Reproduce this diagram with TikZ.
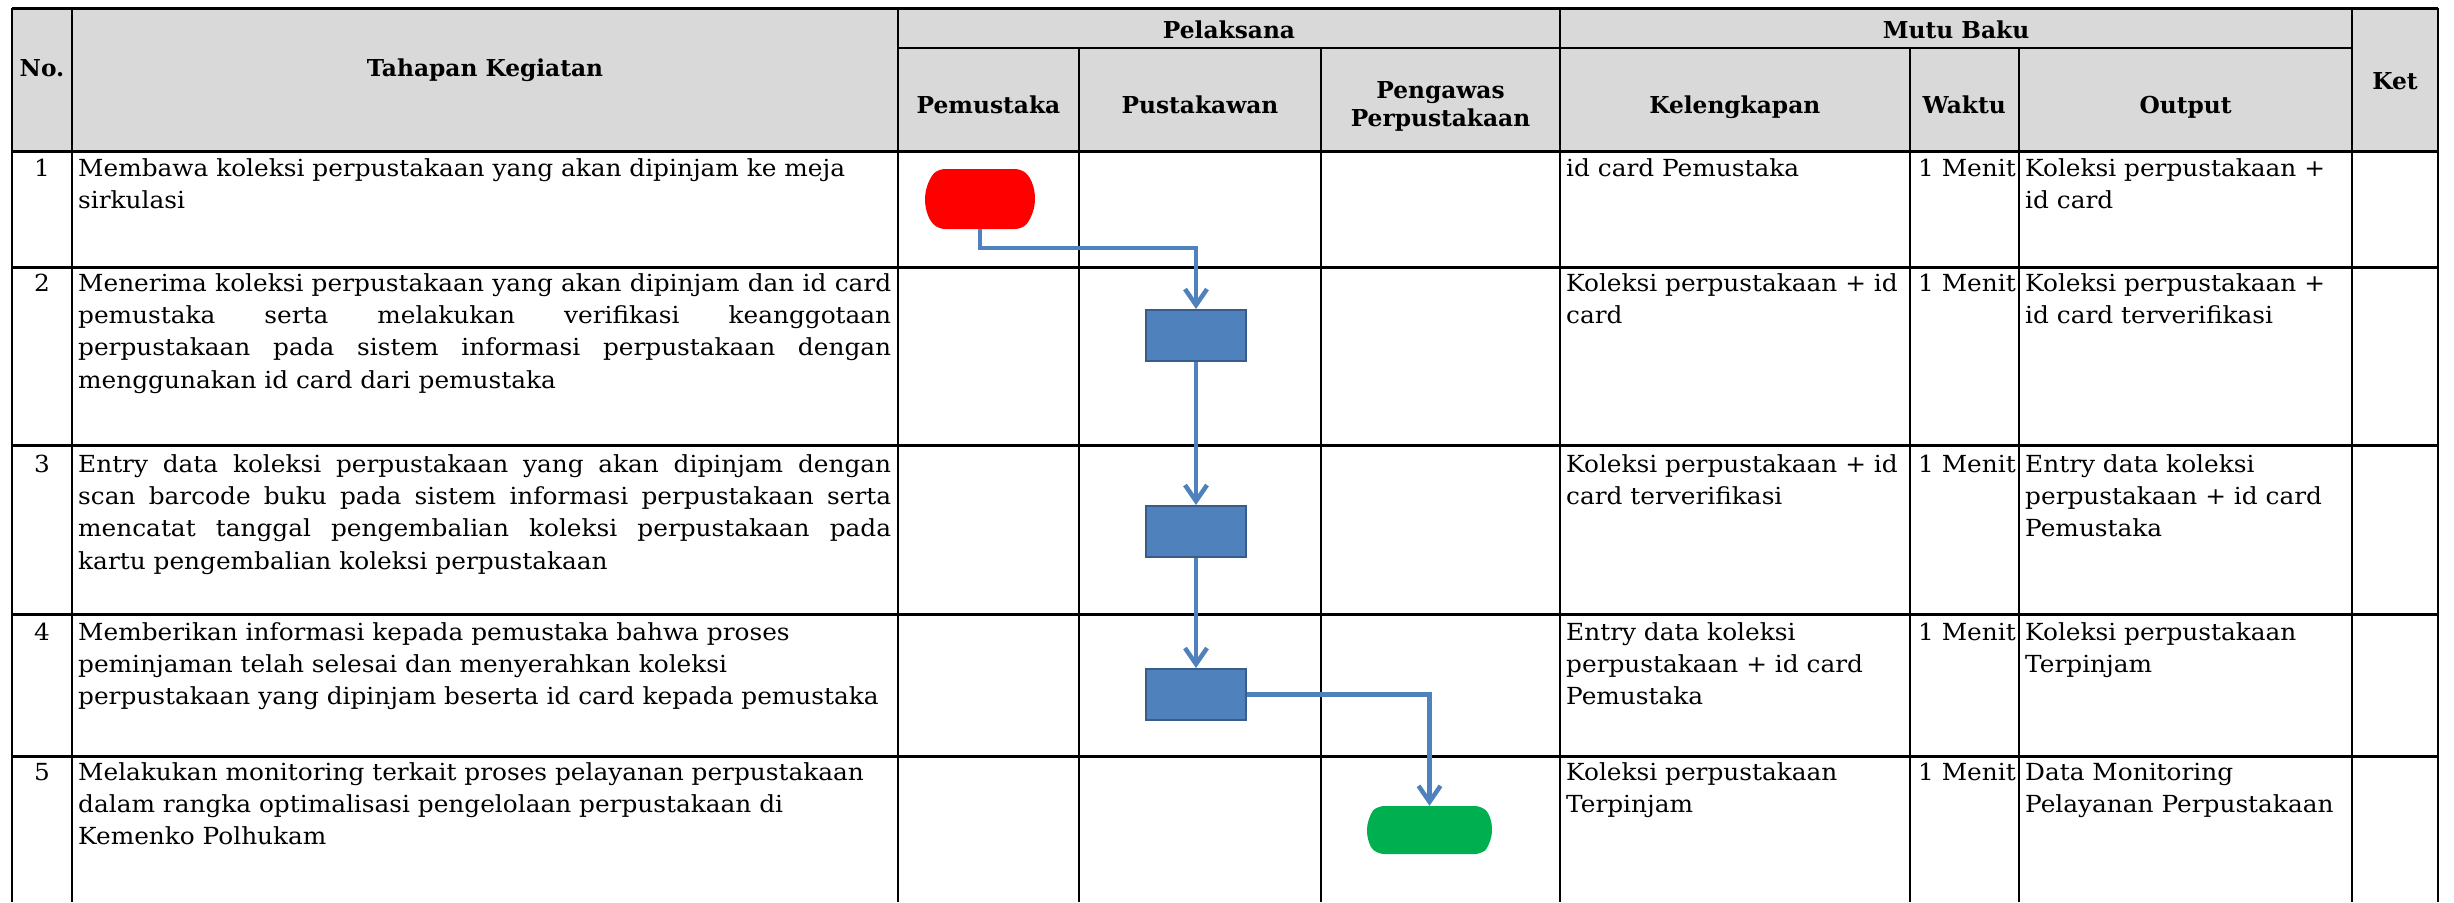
\documentclass[tikz,border=0pt]{standalone}
\usepackage{fontspec}
\setmainfont{DejaVu Serif}
\newfontfamily\bodyfam{DejaVu Serif}[FakeStretch=1.055]
\usetikzlibrary{arrows.meta,shapes.misc}
\definecolor{hdr}{HTML}{D9D9D9}
\definecolor{flowblue}{HTML}{4F81BD}
\definecolor{flowedge}{HTML}{385D8A}
\definecolor{termred}{HTML}{FF0000}
\definecolor{termgreen}{HTML}{00B050}
\newcommand{\bodyfont}{\bodyfam\fontsize{23.5}{32.4}\selectfont}
\newcommand{\hdfont}{\fontsize{23.3}{28}\selectfont\bfseries}
\begin{document}
\begin{tikzpicture}[x=1pt,y=-1pt,
  gridthin/.style={line width=2pt, black},
  gridthick/.style={line width=3pt, black},
  hd/.style={anchor=base, inner sep=0, font=\hdfont},
  cell/.style={anchor=base west, inner sep=0, font=\bodyfont},
  num/.style={anchor=base, inner sep=0, font=\bodyfont},
  procbox/.style={draw=flowedge, line width=2pt, fill=flowblue, minimum width=100pt, minimum height=51pt, inner sep=0},
  term/.style={rounded rectangle, rounded rectangle arc length=100, rounded corners=6pt, inner sep=0},
  conn/.style={draw=flowblue, line width=4.5pt, -{Straight Barb[length=16pt,width=22pt]}}
]
\useasboundingbox (0,0) rectangle (2454,902);
% header background
\fill[hdr] (12,8) rectangle (2438,151);
% horizontal lines
\draw[gridthick] (12,8) -- (2438,8);
\draw[gridthin] (898,48) -- (2352,48);
\draw[gridthick] (12,151) -- (2438,151);
\foreach \yy in {267.7,445,614,756} {\draw[gridthick] (12,\yy) -- (2438,\yy);}
% vertical lines
\foreach \xx in {12,72,898,1560,2352,2438} {\draw[gridthin] (\xx,8) -- (\xx,902);}
\foreach \xx in {1079,1321,1909.5,2019} {\draw[gridthin] (\xx,48) -- (\xx,902);}

% header texts
\node[hd] (hno) at (42,76) {No.};
\node[hd] (htahap) at (485,76) {Tahapan Kegiatan};
\node[hd] (hpel) at (1229,38) {Pelaksana};
\node[hd] (hmutu) at (1956,38) {Mutu Baku};
\node[hd] (hket) at (2395,89) {Ket};
\node[hd] (hpemu) at (988.5,113) {Pemustaka};
\node[hd] (hpust) at (1200,113) {Pustakawan};
\node[hd] (hpeng) at (1440.5,98) {\parbox[t]{230pt}{\centering Pengawas\\Perpustakaan}};
\node[hd] (hkel) at (1734.75,113) {Kelengkapan};
\node[hd] (hwak) at (1964.25,113) {Waktu};
\node[hd] (hout) at (2185.5,113) {Output};

% row 1
\node[num] (n1) at (42,176) {1};
\node[cell] (t1) at (78,176) {\parbox[t]{813pt}{\raggedright Membawa koleksi perpustakaan yang akan dipinjam ke meja\\sirkulasi}};
\node[cell] (k1) at (1566,176) {\parbox[t]{340pt}{\raggedright id card Pemustaka}};
\node[cell] (w1) at (1918,176) {1 Menit};
\node[cell] (o1) at (2025,176) {\parbox[t]{325pt}{\raggedright Koleksi perpustakaan +\\id card}};

% row 2
\node[num] (n2) at (42,291) {2};
\node[cell] (t2) at (78,291) {\parbox[t]{813pt}{Menerima koleksi perpustakaan yang akan dipinjam dan id card\linebreak pemustaka serta melakukan verifikasi keanggotaan\linebreak perpustakaan pada sistem informasi perpustakaan dengan\linebreak menggunakan id card dari pemustaka}};
\node[cell] (k2) at (1566,291) {\parbox[t]{340pt}{\raggedright Koleksi perpustakaan + id\\card}};
\node[cell] (w2) at (1918,291) {1 Menit};
\node[cell] (o2) at (2025,291) {\parbox[t]{325pt}{\raggedright Koleksi perpustakaan +\\id card terverifikasi}};

% row 3
\node[num] (n3) at (42,472) {3};
\node[cell] (t3) at (78,472) {\parbox[t]{813pt}{Entry data koleksi perpustakaan yang akan dipinjam dengan\linebreak scan barcode buku pada sistem informasi perpustakaan serta\linebreak mencatat tanggal pengembalian koleksi perpustakaan pada\linebreak kartu pengembalian koleksi perpustakaan}};
\node[cell] (k3) at (1566,472) {\parbox[t]{340pt}{\raggedright Koleksi perpustakaan + id\\card terverifikasi}};
\node[cell] (w3) at (1918,472) {1 Menit};
\node[cell] (o3) at (2025,472) {\parbox[t]{325pt}{\raggedright Entry data koleksi\\perpustakaan + id card\\Pemustaka}};

% row 4
\node[num] (n4) at (42,640) {4};
\node[cell] (t4) at (78,640) {\parbox[t]{813pt}{\raggedright Memberikan informasi kepada pemustaka bahwa proses\\peminjaman telah selesai dan menyerahkan koleksi\\perpustakaan yang dipinjam beserta id card kepada pemustaka}};
\node[cell] (k4) at (1566,640) {\parbox[t]{340pt}{\raggedright Entry data koleksi\\perpustakaan + id card\\Pemustaka}};
\node[cell] (w4) at (1918,640) {1 Menit};
\node[cell] (o4) at (2025,640) {\parbox[t]{325pt}{\raggedright Koleksi perpustakaan\\Terpinjam}};

% row 5
\node[num] (n5) at (42,780) {5};
\node[cell] (t5) at (78,780) {\parbox[t]{813pt}{\raggedright Melakukan monitoring terkait proses pelayanan perpustakaan\\dalam rangka optimalisasi pengelolaan perpustakaan di\\Kemenko Polhukam}};
\node[cell] (k5) at (1566,780) {\parbox[t]{340pt}{\raggedright Koleksi perpustakaan\\Terpinjam}};
\node[cell] (w5) at (1918,780) {1 Menit};
\node[cell] (o5) at (2025,780) {\parbox[t]{325pt}{\raggedright Data Monitoring\\Pelayanan Perpustakaan}};

% flow shapes
\node[term, fill=termred, minimum width=110pt, minimum height=60pt] (start) at (980,199) {};
\node[procbox] (b1) at (1196,335.5) {};
\node[procbox] (b2) at (1196,531.5) {};
\node[procbox] (b3) at (1196,694.5) {};
\node[term, fill=termgreen, minimum width=125pt, minimum height=48pt] (finish) at (1429.5,830) {};

% connectors
\draw[conn] (start.south) -- ++(0,19) -| (b1.north);
\draw[conn] (b1.south) -- (b2.north);
\draw[conn] (b2.south) -- (b3.north);
\draw[conn] (b3.east) -| (finish.north);
\end{tikzpicture}
\end{document}
